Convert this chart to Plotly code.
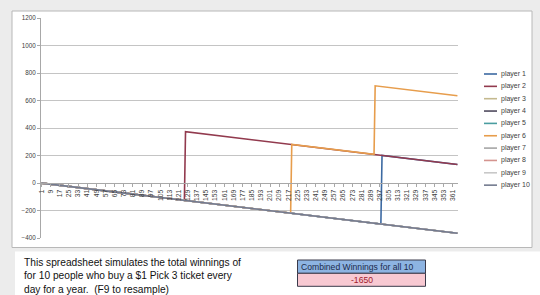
import plotly.graph_objects as go

# ---------------- data ----------------
players = ["player 1", "player 2", "player 3", "player 4", "player 5",
           "player 6", "player 7", "player 8", "player 9", "player 10"]

# breakpoints of each cumulative-winnings line (day, running total)
p1_days = [1, 298, 299, 365]
p1_vals = [-1, -298, 201, 135]
p2_days = [1, 126, 127, 365]
p2_vals = [-1, -126, 373, 135]
p3_days = [1, 365]
p3_vals = [-1, -365]
p4_days = [1, 365]
p4_vals = [-1, -365]
p5_days = [1, 365]
p5_vals = [-1, -365]
p6_days = [1, 219, 220, 292, 293, 365]
p6_vals = [-1, -219, 280, 208, 707, 635]
p7_days = [1, 365]
p7_vals = [-1, -365]
p8_days = [1, 365]
p8_vals = [-1, -365]
p9_days = [1, 365]
p9_vals = [-1, -365]
p10_days = [1, 365]
p10_vals = [-1, -365]

day_ticks = [1, 9, 17, 25, 33, 41, 49, 57, 65, 73, 81, 89, 97, 105, 113, 121,
             129, 137, 145, 153, 161, 169, 177, 185, 193, 201, 209, 217, 225,
             233, 241, 249, 257, 265, 273, 281, 289, 297, 305, 313, 321, 329,
             337, 345, 353, 361]
day_labels = [str(d) for d in day_ticks]
y_ticks = [-400, -200, 0, 200, 400, 600, 800, 1000, 1200]

series_days = [p1_days, p2_days, p3_days, p4_days, p5_days,
               p6_days, p7_days, p8_days, p9_days, p10_days]
series_vals = [p1_vals, p2_vals, p3_vals, p4_vals, p5_vals,
               p6_vals, p7_vals, p8_vals, p9_vals, p10_vals]

colors = ["#3D6AA2", "#923A4E", "#C4B98E", "#4F4A5E", "#4A9DA0",
          "#E79D4C", "#A5A5A5", "#D4948F", "#C8C8C8", "#737B8F"]

combined_total = sum(v[-1] for v in series_vals)

# ---------------- layout helpers ----------------
W, H = 540, 295
ML, MR, MT, MB = 41, 82, 18, 57
PW, PH = W - ML - MR, H - MT - MB


def px(x):
    return (x - ML) / PW


def py(y):
    return (H - MB - y) / PH


FONT = "Liberation Sans"

fig = go.Figure()
for name, d, v, c in zip(players, series_days, series_vals, colors):
    fig.add_trace(go.Scatter(x=d, y=v, mode="lines", name=name,
                             line=dict(color=c, width=1.6),
                             showlegend=False, hoverinfo="skip"))

shapes = []
annotations = []

# background panels
shapes.append(dict(type="rect", xref="paper", yref="paper", layer="below",
                   x0=px(12), x1=px(532), y0=py(247.5), y1=py(11),
                   fillcolor="white", line=dict(color="#B8B8B8", width=1)))
shapes.append(dict(type="rect", xref="paper", yref="paper", layer="below",
                   x0=px(15), x1=px(541), y0=py(296), y1=py(251.5),
                   fillcolor="white", line=dict(width=0)))

# manual legend
for i, (name, c) in enumerate(zip(players, colors)):
    yy = 74 + i * 12.35
    shapes.append(dict(type="line", xref="paper", yref="paper",
                       x0=px(484), x1=px(497), y0=py(yy), y1=py(yy),
                       line=dict(color=c, width=1.6)))
    annotations.append(dict(xref="paper", yref="paper", x=px(499), y=py(yy),
                            text=name, showarrow=False, xanchor="left",
                            yanchor="middle",
                            font=dict(family=FONT, size=7, color="#404040")))

# description text
annotations.append(dict(
    xref="paper", yref="paper", x=px(22), y=py(254.5),
    text="This spreadsheet simulates the total winnings of<br>"
         "for 10 people who buy a $1 Pick 3 ticket every<br>"
         "day for a year.  (F9 to resample)",
    showarrow=False, xanchor="left", yanchor="top", align="left",
    font=dict(family=FONT, size=10.2, color="#111111")))

# combined winnings box
shapes.append(dict(type="rect", xref="paper", yref="paper",
                   x0=px(297.5), x1=px(425.5), y0=py(273.3), y1=py(260),
                   fillcolor="#8DB4E2", line=dict(color="#3A3A4A", width=1)))
shapes.append(dict(type="rect", xref="paper", yref="paper",
                   x0=px(297.5), x1=px(425.5), y0=py(286.3), y1=py(273.3),
                   fillcolor="#F8C9D2", line=dict(color="#3A3A4A", width=1)))
annotations.append(dict(xref="paper", yref="paper", x=px(298.5), y=py(266.8),
                        text="Combined Winnings for all 10", showarrow=False,
                        xanchor="left", yanchor="middle",
                        font=dict(family=FONT, size=8.6, color="#1C2A4A")))
annotations.append(dict(xref="paper", yref="paper", x=px(361.5), y=py(279.9),
                        text=str(combined_total), showarrow=False,
                        xanchor="center", yanchor="middle",
                        font=dict(family=FONT, size=8.6, color="#A0202A")))

fig.update_layout(
    width=W, height=H,
    margin=dict(l=ML, r=MR, t=MT, b=MB, pad=0),
    paper_bgcolor="#ECECEC",
    plot_bgcolor="white",
    showlegend=False,
    shapes=shapes,
    annotations=annotations,
    xaxis=dict(type="linear", range=[0.5, 365.5], anchor="free",
               position=0.25, tickmode="array", tickvals=day_ticks,
               ticktext=day_labels, tickangle=-90, showgrid=False,
               zeroline=False, showline=True, linecolor="#A8A8A8",
               linewidth=1, ticks="outside", ticklen=3, tickcolor="#A8A8A8",
               tickfont=dict(family=FONT, size=6.8, color="#404040")),
    yaxis=dict(range=[-400, 1200], tickvals=y_ticks, showgrid=True,
               gridcolor="#C4C4C4", gridwidth=1, zeroline=False,
               showline=True, linecolor="#A8A8A8", linewidth=1,
               ticks="outside", ticklen=3, tickcolor="#A8A8A8",
               tickfont=dict(family=FONT, size=6.3, color="#404040")),
)

fig.write_html("out.html")
